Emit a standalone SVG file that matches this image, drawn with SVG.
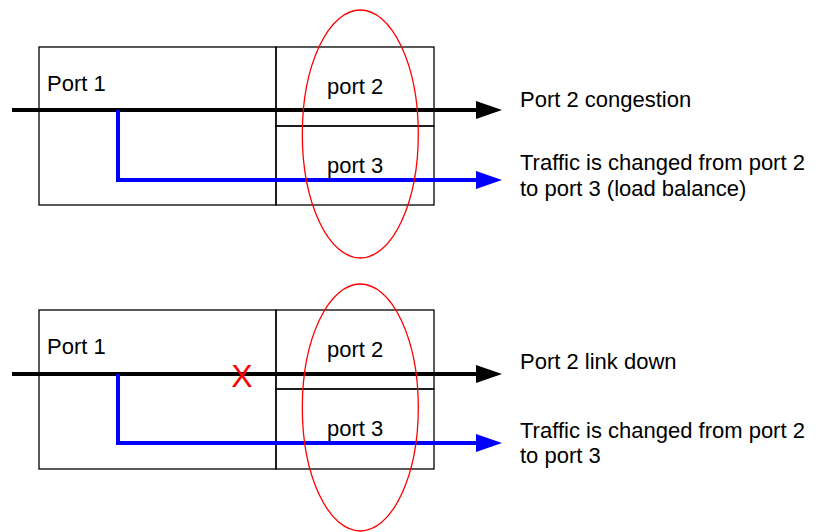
<svg xmlns="http://www.w3.org/2000/svg" width="817" height="532" viewBox="0 0 817 532">
<defs>
<style>
.box{fill:none;stroke:#000;stroke-width:1.3}
.ell{fill:none;stroke:#f00;stroke-width:1.3}
.lbl{font-family:"Liberation Sans",Arial,sans-serif;font-size:22px;fill:#000}
.blk{fill:none;stroke:#000;stroke-width:4}
.blu{fill:none;stroke:#00f;stroke-width:4}
.x{font-family:"Liberation Sans",Arial,sans-serif;font-size:32px;fill:#f00}
</style>
<marker id="ahK" markerUnits="userSpaceOnUse" markerWidth="26" markerHeight="18" refX="0" refY="9" orient="auto">
<path d="M0,0 L26,9 L0,18 Z" fill="#000"/>
</marker>
<marker id="ahB" markerUnits="userSpaceOnUse" markerWidth="26" markerHeight="18" refX="0" refY="9" orient="auto">
<path d="M0,0 L26,9 L0,18 Z" fill="#00f"/>
</marker>
</defs>
<rect width="817" height="532" fill="#fff"/>

<g id="top-panel">
<g id="top-port1">
<rect class="box" x="39" y="47" width="237" height="158"/>
<text class="lbl" x="47" y="91">Port 1</text>
</g>
<g id="top-port2">
<rect class="box" x="276" y="47" width="158" height="79"/>
<text class="lbl" x="327" y="94">port 2</text>
</g>
<g id="top-port3">
<rect class="box" x="276" y="126" width="158" height="79"/>
<text class="lbl" x="327" y="173">port 3</text>
</g>
<g id="top-label1"><text class="lbl" x="520" y="107">Port 2 congestion</text></g>
<g id="top-label2"><text class="lbl" x="520" y="170">Traffic is changed from port 2</text>
<text class="lbl" x="520" y="196">to port 3 (load balance)</text></g>
</g>

<g id="bottom-panel">
<g id="bot-port1">
<rect class="box" x="39" y="310" width="237" height="159"/>
<text class="lbl" x="47" y="354">Port 1</text>
</g>
<g id="bot-port2">
<rect class="box" x="276" y="310" width="158" height="79"/>
<text class="lbl" x="327" y="357">port 2</text>
</g>
<g id="bot-port3">
<rect class="box" x="276" y="389" width="158" height="80"/>
<text class="lbl" x="327" y="436">port 3</text>
</g>
<g id="bot-label1"><text class="lbl" x="520" y="369">Port 2 link down</text></g>
<g id="bot-label2"><text class="lbl" x="520" y="438">Traffic is changed from port 2</text>
<text class="lbl" x="520" y="463">to port 3</text></g>
</g>

<g id="connectors">
<path class="blk" d="M12,110 H476" marker-end="url(#ahK)"/>
<path class="blu" d="M118,110 V180 H476" marker-end="url(#ahB)"/>
<path class="blk" d="M12,374 H476" marker-end="url(#ahK)"/>
<path class="blu" d="M118,374 V443 H476" marker-end="url(#ahB)"/>
</g>

<g id="highlights">
<ellipse class="ell" cx="360.3" cy="134" rx="58" ry="124"/>
<ellipse class="ell" cx="360.3" cy="407.5" rx="58" ry="123.5"/>
<text class="x" x="242" y="387" text-anchor="middle">X</text>
</g>
</svg>
